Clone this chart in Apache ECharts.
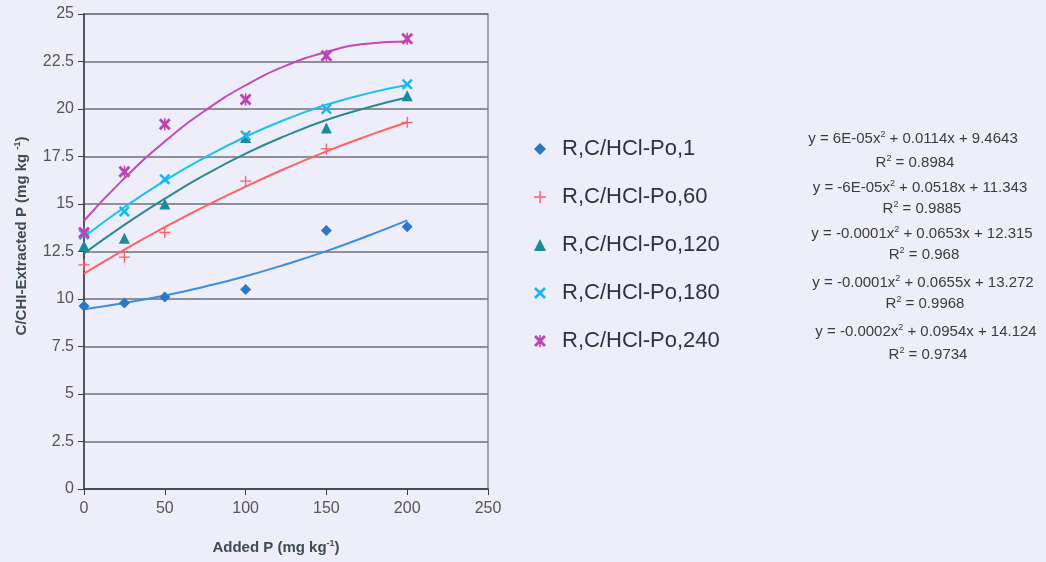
<!DOCTYPE html>
<html>
<head>
<meta charset="utf-8">
<script src="https://cdn.jsdelivr.net/npm/echarts@6/dist/echarts.min.js"></script>
<style>
html,body{margin:0;padding:0;background:#EEEEFA;}
#chart{width:1046px;height:562px;}
</style>
</head>
<body>
<div id="chart"></div>
<script>
// ---- data ----
var addedP = [0, 25, 50, 100, 150, 200];
var seriesNames = ['R,C/HCl-Po,1', 'R,C/HCl-Po,60', 'R,C/HCl-Po,120', 'R,C/HCl-Po,180', 'R,C/HCl-Po,240'];
var po1   = [9.63, 9.79, 10.1, 10.5, 13.6, 13.8];
var po60  = [11.8, 12.2, 13.5, 16.2, 17.9, 19.3];
var po120 = [12.8, 13.2, 15.0, 18.5, 19.0, 20.7];
var po180 = [13.4, 14.6, 16.3, 18.6, 20.0, 21.3];
var po240 = [13.5, 16.7, 19.2, 20.5, 22.8, 23.7];

// trend-line values
var trendX = [0, 25, 50, 75, 100, 125, 150, 175, 200];
var trend1   = [9.46, 9.79, 10.18, 10.66, 11.20, 11.83, 12.52, 13.30, 14.14];
var trend60  = [11.34, 12.60, 13.78, 14.89, 15.92, 16.88, 17.77, 18.57, 19.30];
var trend120 = [12.40, 13.90, 15.28, 16.54, 17.65, 18.60, 19.42, 20.07, 20.60];
var trend180 = [13.27, 14.83, 16.23, 17.46, 18.54, 19.46, 20.22, 20.81, 21.26];
var trend240 = [14.12, 16.36, 18.29, 19.92, 21.25, 22.28, 23.00, 23.44, 23.55];

var equations = [
  ['y = 6E-05x', ' + 0.0114x + 9.4643', '0.8984'],
  ['y = -6E-05x', ' + 0.0518x + 11.343', '0.9885'],
  ['y = -0.0001x', ' + 0.0653x + 12.315', '0.968'],
  ['y = -0.0001x', ' + 0.0655x + 13.272', '0.9968'],
  ['y = -0.0002x', ' + 0.0954x + 14.124', '0.9734']
];
var yTicks = ['0', '2.5', '5', '7.5', '10', '12.5', '15', '17.5', '20', '22.5', '25'];
var xTitle = 'Added P (mg kg';
var yTitle = 'C/CHI-Extracted P (mg kg ';

// ---- styling ----
var markerColors = ['#2B78C9', '#FF5E6A', '#1A8A9C', '#18B6EE', '#C043B4'];
var lineColors   = ['#3A8EE0', '#FF6262', '#2A8894', '#1CC0F0', '#C24AB8'];
var symbols = [
  'diamond',
  'path://M4.4,0H5.6V4.4H10V5.6H5.6V10H4.4V5.6H0V4.4H4.4Z',
  'triangle',
  'path://M0,1.6L1.6,0L5,3.4L8.4,0L10,1.6L6.6,5L10,8.4L8.4,10L5,6.6L1.6,10L0,8.4L3.4,5Z',
  'path://M0,1.7L1.7,0L5,3.3L8.3,0L10,1.7L6.7,5L10,8.3L8.3,10L5,6.7L1.7,10L0,8.3L3.3,5Z M4.35,0H5.65V10H4.35Z'
];
var symbolSizes = [11, 11, 11, 11, 12];

function pairs(xs, ys){ return xs.map(function(x,i){ return [x, ys[i]]; }); }
var pointSets = [po1, po60, po120, po180, po240];
var trendSets = [trend1, trend60, trend120, trend180, trend240];

var series = [];
trendSets.forEach(function(t, i){
  series.push({
    type: 'line', name: 'trend' + i, data: pairs(trendX, t), smooth: true,
    showSymbol: false, silent: true, z: 2,
    lineStyle: {color: lineColors[i], width: 2}
  });
});
pointSets.forEach(function(p, i){
  series.push({
    type: 'scatter', name: seriesNames[i], data: pairs(addedP, p), z: 4,
    symbol: symbols[i], symbolSize: symbolSizes[i],
    itemStyle: {color: markerColors[i], opacity: 1}
  });
});

var FONT = 'Liberation Sans, Arial';
var eqGraphics = [];
var eqY = [139, 188, 234, 283, 332];
var r2Y = [163, 209, 255, 304, 355];
var eqCx = [913, 920, 922, 923, 926];
var richStyle = {
  a: {fontSize: 15, fontFamily: FONT, fill: '#3a3a44', color: '#3a3a44'},
  s: {fontSize: 9, fontFamily: FONT, fill: '#3a3a44', color: '#3a3a44', padding: [0,0,8,0]}
};
equations.forEach(function(e, i){
  eqGraphics.push({
    type: 'text', x: eqCx[i], y: eqY[i],
    style: {
      text: '{a|' + e[0] + '}{s|2}{a|' + e[1] + '}',
      rich: richStyle, align: 'center', verticalAlign: 'middle'
    }
  });
  eqGraphics.push({
    type: 'text', x: eqCx[i] + 2, y: r2Y[i],
    style: {
      text: '{a|R}{s|2}{a| = ' + e[2] + '}',
      rich: richStyle, align: 'center', verticalAlign: 'middle'
    }
  });
});
var titleRich = {
  t: {fontSize: 15, fontWeight: 'bold', fontFamily: FONT, fill: '#3f4c4c', color: '#3f4c4c'},
  sup: {fontSize: 9, fontWeight: 'bold', fontFamily: FONT, fill: '#3f4c4c', color: '#3f4c4c', padding: [0,0,8,0]}
};
eqGraphics.push({
  type: 'text', x: 22, y: 236, rotation: Math.PI / 2,
  style: {text: '{t|' + yTitle + '}{sup|-1}{t|)}', rich: titleRich, align: 'center', verticalAlign: 'middle'}
});
eqGraphics.push({
  type: 'text', x: 276, y: 548,
  style: {text: '{t|' + xTitle + '}{sup|-1}{t|)}', rich: titleRich, align: 'center', verticalAlign: 'middle'}
});

var chart = echarts.init(document.getElementById('chart'), null, {renderer: 'canvas'});
chart.setOption({
  backgroundColor: '#EEEEFA',
  animation: false,
  grid: {left: 84, right: 558, top: 14, bottom: 73, show: true, borderColor: '#8a8a90', borderWidth: 1.5, backgroundColor: 'transparent'},
  xAxis: {
    type: 'value', min: 0, max: 250, interval: 50,
    axisLine: {show: true, lineStyle: {color: '#3a3a44', width: 1.5}},
    axisTick: {show: true, inside: false, length: 6, lineStyle: {color: '#3a3a44'}},
    axisLabel: {fontSize: 16, color: '#555', margin: 12, fontFamily: FONT},
    splitLine: {show: false}
  },
  yAxis: {
    type: 'value', min: 0, max: 25, interval: 2.5,
    axisLine: {show: true, lineStyle: {color: '#3a3a44', width: 1.5}},
    axisTick: {show: true, inside: false, length: 6, lineStyle: {color: '#3a3a44'}},
    axisLabel: {fontSize: 16, color: '#555', margin: 10, fontFamily: FONT,
      formatter: function(v){ var i = Math.round(v / 2.5); return yTicks[i] !== undefined ? yTicks[i] : String(v); }},
    splitLine: {show: true, lineStyle: {color: '#6f6f78', width: 1.5}}
  },
  legend: {
    data: seriesNames, orient: 'vertical', left: 529, top: 133,
    itemWidth: 12, itemHeight: 12, itemGap: 26,
    textStyle: {fontSize: 22, color: '#2d3140', fontFamily: FONT, padding: [0,0,0,11]},
    selectedMode: false
  },
  graphic: eqGraphics,
  series: series
});
</script>
</body>
</html>
